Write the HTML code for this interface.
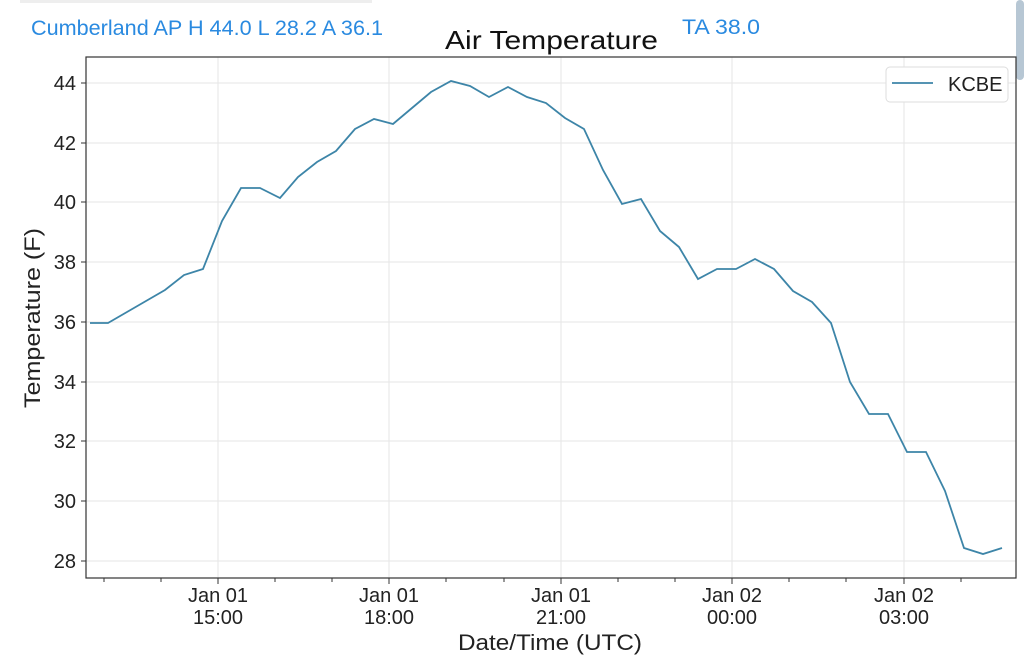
<!DOCTYPE html>
<html><head><meta charset="utf-8"><style>
body{margin:0;background:#fff;width:1024px;height:663px;overflow:hidden;font-family:"Liberation Sans",sans-serif}
</style></head><body>
<svg width="1024" height="663" xmlns="http://www.w3.org/2000/svg" font-family="Liberation Sans, DejaVu Sans, sans-serif">
<rect x="20" y="0" width="352" height="3" fill="#eee"/>
<rect x="1016" y="0" width="8" height="80" rx="4" fill="#b7c7d4"/>
<text x="31" y="35" font-size="21" fill="#2a8ae0" textLength="352" lengthAdjust="spacingAndGlyphs">Cumberland AP H 44.0 L 28.2 A 36.1</text>
<text x="682" y="34" font-size="21" fill="#2a8ae0" textLength="78" lengthAdjust="spacingAndGlyphs">TA 38.0</text>
<text x="445" y="49" font-size="26" fill="#111" textLength="213" lengthAdjust="spacingAndGlyphs">Air Temperature</text>
<g stroke="#e6e6e6" stroke-width="1">
<line x1="218" y1="57" x2="218" y2="578"/><line x1="389" y1="57" x2="389" y2="578"/><line x1="561" y1="57" x2="561" y2="578"/><line x1="732" y1="57" x2="732" y2="578"/><line x1="904" y1="57" x2="904" y2="578"/>
<line x1="86" y1="83" x2="1016" y2="83"/><line x1="86" y1="143" x2="1016" y2="143"/><line x1="86" y1="202" x2="1016" y2="202"/><line x1="86" y1="262" x2="1016" y2="262"/><line x1="86" y1="322" x2="1016" y2="322"/><line x1="86" y1="382" x2="1016" y2="382"/><line x1="86" y1="441" x2="1016" y2="441"/><line x1="86" y1="501" x2="1016" y2="501"/><line x1="86" y1="561" x2="1016" y2="561"/>
</g>
<rect x="86" y="57" width="930" height="521" fill="none" stroke="#333" stroke-width="1.2"/>
<polyline fill="none" stroke="#3d85a8" stroke-width="1.8" points="90,323 108,323 127,312 146,301 165,290 184,275 203,269 222,221 241,188 260,188 280,198 298,177 317,162 336,151 355,129 374,119 393,124 412,108 431,92 451,81 470,86 489,97 508,87 527,97 546,103 565,118 584,129 603,170 622,204 641,199 660,231 679,247 698,279 717,269 736,269 755,259 774,269 793,291 812,302 831,323 850,382 869,414 888,414 907,452 926,452 945,491 964,548 983,554 1002,548"/>
<g stroke="#333" stroke-width="1">
<line x1="81" y1="83" x2="86" y2="83"/><line x1="81" y1="143" x2="86" y2="143"/><line x1="81" y1="202" x2="86" y2="202"/><line x1="81" y1="262" x2="86" y2="262"/><line x1="81" y1="322" x2="86" y2="322"/><line x1="81" y1="382" x2="86" y2="382"/><line x1="81" y1="441" x2="86" y2="441"/><line x1="81" y1="501" x2="86" y2="501"/><line x1="81" y1="561" x2="86" y2="561"/>
<line x1="218" y1="578" x2="218" y2="584"/><line x1="389" y1="578" x2="389" y2="584"/><line x1="561" y1="578" x2="561" y2="584"/><line x1="732" y1="578" x2="732" y2="584"/><line x1="904" y1="578" x2="904" y2="584"/>
<line x1="104" y1="578" x2="104" y2="582"/><line x1="161" y1="578" x2="161" y2="582"/><line x1="275" y1="578" x2="275" y2="582"/><line x1="332" y1="578" x2="332" y2="582"/><line x1="446" y1="578" x2="446" y2="582"/><line x1="504" y1="578" x2="504" y2="582"/><line x1="618" y1="578" x2="618" y2="582"/><line x1="675" y1="578" x2="675" y2="582"/><line x1="789" y1="578" x2="789" y2="582"/><line x1="846" y1="578" x2="846" y2="582"/><line x1="961" y1="578" x2="961" y2="582"/>
</g>
<g font-size="20" fill="#222" text-anchor="end">
<text x="76" y="90">44</text><text x="76" y="150">42</text><text x="76" y="209">40</text><text x="76" y="269">38</text><text x="76" y="329">36</text><text x="76" y="389">34</text><text x="76" y="448">32</text><text x="76" y="508">30</text><text x="76" y="568">28</text>
</g>
<g font-size="20" fill="#222" text-anchor="middle">
<text x="218" y="602">Jan 01</text><text x="218" y="624">15:00</text>
<text x="389" y="602">Jan 01</text><text x="389" y="624">18:00</text>
<text x="561" y="602">Jan 01</text><text x="561" y="624">21:00</text>
<text x="732" y="602">Jan 02</text><text x="732" y="624">00:00</text>
<text x="904" y="602">Jan 02</text><text x="904" y="624">03:00</text>
</g>
<text x="458" y="650" font-size="22" fill="#222" textLength="184" lengthAdjust="spacingAndGlyphs">Date/Time (UTC)</text>
<text transform="translate(40,408) rotate(-90)" font-size="22" fill="#222" textLength="180" lengthAdjust="spacingAndGlyphs">Temperature (F)</text>
<rect x="886" y="67" width="122" height="35" rx="4" fill="#fff" stroke="#ddd"/>
<line x1="892" y1="83" x2="933" y2="83" stroke="#3d85a8" stroke-width="1.8"/>
<text x="948" y="91" font-size="20" fill="#222">KCBE</text>
</svg>
</body></html>
